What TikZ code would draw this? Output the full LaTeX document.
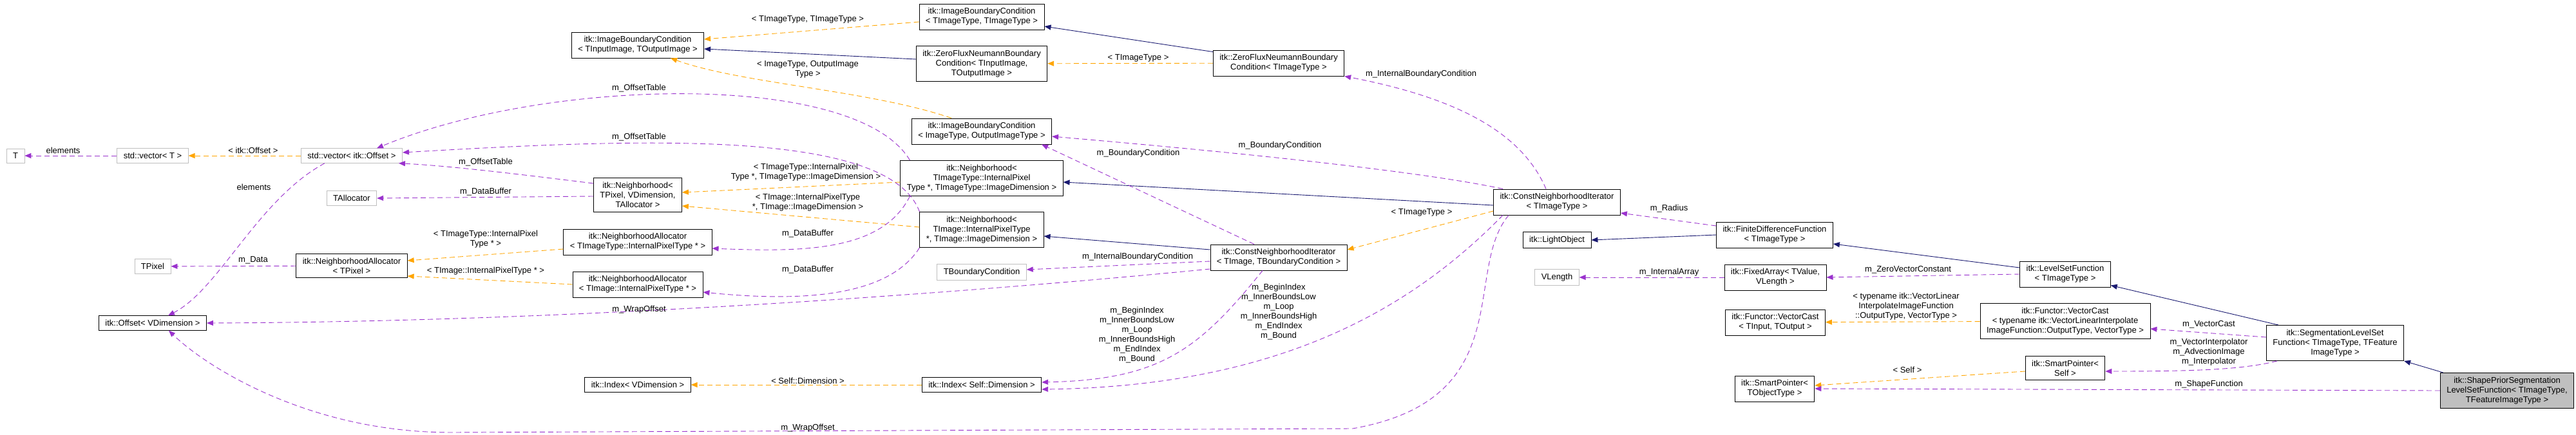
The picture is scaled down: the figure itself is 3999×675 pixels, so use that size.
\documentclass[tikz,border=0pt]{standalone}
\usepackage{fontspec}
\usepackage{tikz}
\usetikzlibrary{arrows.meta}
\newfontfamily\doxfont{Liberation Sans}
\newcommand{\dox}{\doxfont\fontsize{13}{15}\selectfont}
\definecolor{memc}{HTML}{9A32CD}
\definecolor{tplc}{HTML}{FFA500}
\definecolor{inhc}{HTML}{191970}

\begin{document}
\begin{tikzpicture}[x=1pt,y=-1pt]
\tikzset{cls/.style={draw=black,fill=white,font=\dox,align=center,inner xsep=10pt,inner ysep=6.5pt,line width=0.8pt},
  ext/.style={cls,draw=black!25},
  lbl/.style={font=\dox,align=center,inner sep=0pt},
  mem/.style={draw=memc,line width=0.9pt,dash pattern=on 8pt off 5pt,-{Triangle[length=10pt,width=8pt]}},
  tpl/.style={mem,draw=tplc},
  inh/.style={draw=inhc,line width=0.9pt,-{Triangle[length=10pt,width=8pt]}}}
\useasboundingbox (0,0) rectangle (3999,675);

% classes
\node[ext] (T) at (24,242) {T};
\node[ext] (vecT) at (237,242) {std::vector< T >};
\node[ext] (vecOff) at (546,242) {std::vector< itk::Offset >};
\node[ext] (tAlloc) at (546,308) {TAllocator};
\node[ext] (tPixel) at (237,414) {TPixel};
\node[cls] (naPixel) at (546,413) {itk::NeighborhoodAllocator\\< TPixel >};
\node[cls] (offset) at (237,502) {itk::Offset< VDimension >};
\node[cls] (ibcIO) at (990,70) {itk::ImageBoundaryCondition\\< TInputImage, TOutputImage >};
\node[cls] (nbPixel) at (990,303) {itk::Neighborhood<\\TPixel, VDimension,\\TAllocator >};
\node[cls] (naImgType) at (990,376) {itk::NeighborhoodAllocator\\< TImageType::InternalPixelType * >};
\node[cls] (naImg) at (990,442) {itk::NeighborhoodAllocator\\< TImage::InternalPixelType * >};
\node[cls] (idxV) at (990,598) {itk::Index< VDimension >};
\node[cls] (ibcTT) at (1524,26) {itk::ImageBoundaryCondition\\< TImageType, TImageType >};
\node[cls] (zfIO) at (1524,99) {itk::ZeroFluxNeumannBoundary\\Condition< TInputImage,\\TOutputImage >};
\node[cls] (zfT) at (1985,98) {itk::ZeroFluxNeumannBoundary\\Condition< TImageType >};
\node[cls] (ibcIOT) at (1524,204) {itk::ImageBoundaryCondition\\< ImageType, OutputImageType >};
\node[cls] (nbImgType) at (1524,277) {itk::Neighborhood<\\TImageType::InternalPixel\\Type *, TImageType::ImageDimension >};
\node[cls] (nbImg) at (1524,357) {itk::Neighborhood<\\TImage::InternalPixelType\\*, TImage::ImageDimension >};
\node[ext] (tBound) at (1524,423) {TBoundaryCondition};
\node[cls] (cniTB) at (1985,400) {itk::ConstNeighborhoodIterator\\< TImage, TBoundaryCondition >};
\node[cls] (idxSelf) at (1524,598) {itk::Index< Self::Dimension >};
\node[cls] (cniT) at (2417,314) {itk::ConstNeighborhoodIterator\\< TImageType >};
\node[cls] (light) at (2417,373) {itk::LightObject};
\node[ext] (vlen) at (2417,431) {VLength};
\node[cls] (fdf) at (2755,365) {itk::FiniteDifferenceFunction\\< TImageType >};
\node[cls] (fixArr) at (2756,431) {itk::FixedArray< TValue,\\VLength >};
\node[cls] (vcIO) at (2756,501) {itk::Functor::VectorCast\\< TInput, TOutput >};
\node[cls] (spObj) at (2755,604) {itk::SmartPointer<\\TObjectType >};
\node[cls] (lsf) at (3206,426) {itk::LevelSetFunction\\< TImageType >};
\node[cls] (vcTyp) at (3206,499) {itk::Functor::VectorCast\\< typename itk::VectorLinearInterpolate\\ImageFunction::OutputType, VectorType >};
\node[cls] (spSelf) at (3206,572) {itk::SmartPointer<\\Self >};
\node[cls] (slsf) at (3625,533) {itk::SegmentationLevelSet\\Function< TImageType, TFeature\\ImageType >};
\node[cls,fill=black!25] (shape) at (3892,607) {itk::ShapePriorSegmentation\\LevelSetFunction< TImageType,\\TFeatureImageType >};

% inheritance
\draw[inh] ([yshift=7pt]zfIO.west) -- ([yshift=-6pt]ibcIO.east);
\draw[inh] ([yshift=-3pt]zfT.north west) -- ([yshift=-15pt]ibcTT.east);
\draw[inh] ([yshift=12pt]cniTB.west) -- ([yshift=-10pt]nbImg.east);
\draw[inh] ([yshift=-5pt]cniT.west) -- ([yshift=-6pt]nbImgType.east);
\draw[inh] (fdf.west) -- (light.east);
\draw[inh] ([yshift=10pt]lsf.west) -- ([yshift=-14pt]fdf.east);
\draw[inh] ([xshift=19pt]slsf.north west) -- ([yshift=3pt]lsf.south east);
\draw[inh] ([xshift=5pt]shape.north west) -- (slsf.south east);

% templates
\draw[tpl] (vecOff) -- (vecT);
\draw[tpl] ([yshift=-8pt]ibcTT.west) -- ([yshift=9pt]ibcIO.east);
\draw[tpl] (zfT) -- (zfIO);
\draw[tpl] ([xshift=62pt]ibcIOT.north west) .. controls (1350,140) and (1150,130) .. ([xshift=-52pt]ibcIO.south east);
\draw[tpl] ([yshift=-6pt]nbImgType.west) -- ([yshift=4pt]nbPixel.east);
\draw[tpl] ([yshift=4pt]nbImg.west) -- ([yshift=-17pt]nbPixel.east);
\draw[tpl] ([yshift=-11pt]naImgType.west) -- ([yshift=8pt]naPixel.east);
\draw[tpl] (naImg.west) -- ([yshift=-16pt]naPixel.east);
\draw[tpl] (idxSelf) -- (idxV);
\draw[tpl] ([yshift=-5pt]cniT.west) ++(0,9) -- ([yshift=12pt]cniTB.east);
\draw[tpl] (vcTyp) -- (vcIO);
\draw[tpl] ([yshift=-5pt]spSelf.west) -- ([yshift=5pt]spObj.east);

% members
\draw[mem] (vecT) -- (T);
\draw[mem] ([xshift=-42pt]vecOff.south) .. controls (400,310) and (340,450) .. ([xshift=24pt]offset.north);
\draw[mem] (naPixel) -- (tPixel);
\draw[mem] ([yshift=-2pt]nbPixel.west) -- (tAlloc.east);
\draw[mem] ([yshift=18pt]nbPixel.west) .. controls (800,270) and (700,258) .. ([xshift=-6pt]vecOff.south east);
\draw[mem] ([xshift=15pt]nbImgType.north west) .. controls (1330,110) and (850,120) .. ([xshift=39pt]vecOff.north);
\draw[mem] (nbImg.north west) .. controls (1380,200) and (1000,215) .. ([yshift=5pt]vecOff.east);
\draw[mem] ([xshift=15pt]nbImgType.south west) .. controls (1370,390) and (1250,392) .. ([yshift=-10pt]naImgType.east);
\draw[mem] (nbImg.south west) .. controls (1380,460) and (1250,470) .. ([yshift=-12pt]naImg.east);
\draw[mem] ([yshift=-6pt]cniTB.west) -- ([yshift=4pt]tBound.east);
\draw[mem] ([yshift=-18pt]cniTB.west) .. controls (1500,455) and (900,500) .. (offset.east);
\draw[mem] ([xshift=-38pt]cniTB.north) -- ([xshift=-16pt]ibcIOT.south east);
\draw[mem] ([xshift=15pt]cniT.north west) .. controls (2200,265) and (1900,235) .. ([yshift=-8pt]ibcIOT.east);
\draw[mem] ([xshift=-17pt]cniT.north) .. controls (2360,200) and (2250,150) .. (zfT.south east);
\draw[mem] ([xshift=-25pt]cniTB.south) .. controls (1860,545) and (1800,590) .. ([yshift=4pt]idxSelf.east);
\draw[mem] ([xshift=15pt]cniT.south west) .. controls (2200,470) and (2000,600) .. ([yshift=-7pt]idxSelf.east);
\draw[mem] ([xshift=24pt]cniT.south west) .. controls (2270,420) and (2360,620) .. (2100,666) -- (700,672)
  .. controls (480,672) and (320,570) .. ([xshift=25pt]offset.south);
\draw[mem] ([yshift=14pt]fdf.west) -- ([yshift=-17pt]cniT.east);
\draw[mem] (fixArr) -- (vlen);
\draw[mem] (lsf.west) -- (fixArr.east);
\draw[mem] ([yshift=9pt]slsf.west) -- ([yshift=-12pt]vcTyp.east);
\draw[mem] ([xshift=17pt]slsf.south west) .. controls (3480,575) and (3400,577) .. ([yshift=-5pt]spSelf.east);
\draw[mem] (shape.west) -- (spObj.east);

% labels
\node[lbl] (l1) at (98,234) {elements};
\node[lbl] (l2) at (393,234) {< itk::Offset >};
\node[lbl] (l3) at (394,291) {elements};
\node[lbl] (l4) at (393,404) {m\_Data};
\node[lbl] (l5) at (1254,30) {< TImageType, TImageType >};
\node[lbl] (l6) at (1254,108) {< ImageType, OutputImage\\Type >};
\node[lbl] (l7) at (992,137) {m\_OffsetTable};
\node[lbl] (l8) at (992,213) {m\_OffsetTable};
\node[lbl] (l9) at (754,252) {m\_OffsetTable};
\node[lbl] (l10) at (754,298) {m\_DataBuffer};
\node[lbl] (l11) at (1251,268) {< TImageType::InternalPixel\\Type *, TImageType::ImageDimension >};
\node[lbl] (l12) at (1254,315) {< TImage::InternalPixelType\\*, TImage::ImageDimension >};
\node[lbl] (l13) at (754,372) {< TImageType::InternalPixel\\Type * >};
\node[lbl] (l14) at (754,421) {< TImage::InternalPixelType * >};
\node[lbl] (l15) at (1254,363) {m\_DataBuffer};
\node[lbl] (l16) at (1254,419) {m\_DataBuffer};
\node[lbl] (l17) at (992,481) {m\_WrapOffset};
\node[lbl] (l18) at (1254,592) {< Self::Dimension >};
\node[lbl] (l19) at (1254,665) {m\_WrapOffset};
\node[lbl] (l20) at (1767,90) {< TImageType >};
\node[lbl] (l21) at (1987,226) {m\_BoundaryCondition};
\node[lbl] (l22) at (1767,238) {m\_BoundaryCondition};
\node[lbl] (l23) at (1766,399) {m\_InternalBoundaryCondition};
\node[lbl] (l24) at (1765,521) {m\_BeginIndex\\m\_InnerBoundsLow\\m\_Loop\\m\_InnerBoundsHigh\\m\_EndIndex\\m\_Bound};
\node[lbl] (l25) at (1985,485) {m\_BeginIndex\\m\_InnerBoundsLow\\m\_Loop\\m\_InnerBoundsHigh\\m\_EndIndex\\m\_Bound};
\node[lbl] (l26) at (2206,115) {m\_InternalBoundaryCondition};
\node[lbl] (l27) at (2207,330) {< TImageType >};
\node[lbl] (l28) at (2591,324) {m\_Radius};
\node[lbl] (l29) at (2591,423) {m\_InternalArray};
\node[lbl] (l30) at (2962,419) {m\_ZeroVectorConstant};
\node[lbl] (l31) at (2959,476) {< typename itk::VectorLinear\\InterpolateImageFunction\\::OutputType, VectorType >};
\node[lbl] (l32) at (2961,575) {< Self >};
\node[lbl] (l33) at (3429,504) {m\_VectorCast};
\node[lbl] (l34) at (3429,547) {m\_VectorInterpolator\\m\_AdvectionImage\\m\_Interpolator};
\node[lbl] (l35) at (3429,597) {m\_ShapeFunction};
\end{tikzpicture}
\end{document}
